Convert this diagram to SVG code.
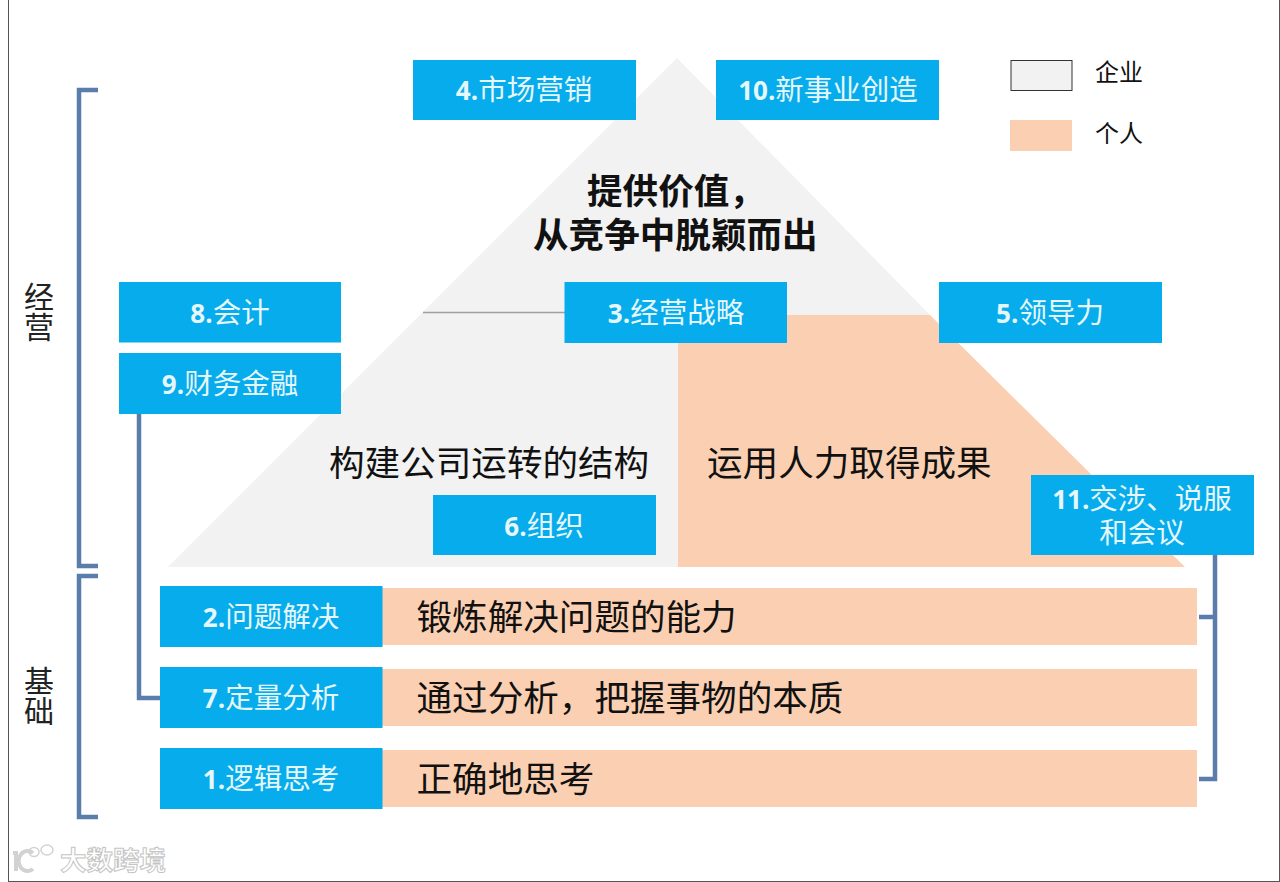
<svg xmlns="http://www.w3.org/2000/svg" width="1280" height="882" viewBox="0 0 1280 882">
<defs><style>
text{font-family:"Noto Sans CJK SC","Noto Sans",sans-serif}
.box{fill:#06acec}
.lbl{fill:#e6f7fb;font-size:28.500px;text-anchor:middle}
.lbl .n{font-family:"Open Sans","Noto Sans CJK SC",sans-serif;font-weight:700;font-size:26px}
.peach{fill:#fbd0b2}
.big{fill:#111;font-size:35.600px}
.title{fill:#111;font-size:35.600px;font-weight:700}
.side{fill:#222;font-size:30px;writing-mode:vertical-rl}
.leg{fill:#111;font-size:24px}
.conn{fill:none;stroke:#5a7dab;stroke-width:4.500}
.wm{fill:#fff;stroke:#c4c4c4;stroke-width:1;font-size:26.500px;font-weight:700}
.wl{fill:none;stroke:#d2d2d2;stroke-width:4}
.wc{fill:none;stroke:#d2d2d2;stroke-width:1.500}
</style></defs>
<rect width="1280" height="882" fill="#fff"/>
<rect x="8.500" y="-1" width="1271" height="882.500" fill="none" stroke="#555" stroke-width="1"/>

<g id="pyramid">
<polygon points="677,58 168,567 678,567 678,315 930,315" fill="#f2f2f2"/>
<polygon class="peach" points="678,315 930,315 1185,567 678,567"/>
</g>
<g id="bar-2"><rect class="peach" x="382" y="588" width="815" height="57"/><text class="big" x="416.500" y="630">锻炼解决问题的能力</text></g>
<g id="bar-7"><rect class="peach" x="382" y="669" width="815" height="57"/><text class="big" x="416.500" y="711">通过分析，把握事物的本质</text></g>
<g id="bar-1"><rect class="peach" x="382" y="750" width="815" height="57"/><text class="big" x="416.500" y="792">正确地思考</text></g>

<g id="connectors">
<path class="conn" d="M98,90H79V566H98"/>
<path class="conn" d="M98,576H79V817H98"/>
<path class="conn" d="M139,414V698H160"/>
<path class="conn" d="M1215,555V779H1199M1215,617H1199"/>
<path d="M423,312.500H565" fill="none" stroke="#a0a0a0" stroke-width="1.500"/>
</g>

<g id="node-4"><rect class="box" x="413" y="60" width="223" height="60"/><text class="lbl" x="524" y="100"><tspan class="n">4.</tspan>市场营销</text></g>
<g id="node-10"><rect class="box" x="716" y="60" width="223" height="60"/><text class="lbl" x="828" y="100"><tspan class="n">10.</tspan>新事业创造</text></g>
<g id="node-8"><rect class="box" x="119" y="282" width="222" height="60.500"/><text class="lbl" x="230" y="323"><tspan class="n">8.</tspan>会计</text></g>
<g id="node-9"><rect class="box" x="119" y="353" width="222" height="61"/><text class="lbl" x="230" y="394"><tspan class="n">9.</tspan>财务金融</text></g>
<g id="node-3"><rect class="box" x="564.500" y="282" width="222.500" height="61"/><text class="lbl" x="676" y="323"><tspan class="n">3.</tspan>经营战略</text></g>
<g id="node-5"><rect class="box" x="939" y="282" width="223" height="61"/><text class="lbl" x="1050" y="323"><tspan class="n">5.</tspan>领导力</text></g>
<g id="node-6"><rect class="box" x="433" y="495" width="223" height="60"/><text class="lbl" x="544" y="536"><tspan class="n">6.</tspan>组织</text></g>
<g id="node-11"><rect class="box" x="1031" y="475" width="223" height="80"/><text class="lbl" y="509"><tspan x="1142"><tspan class="n">11.</tspan>交涉、说服</tspan><tspan x="1142" y="543">和会议</tspan></text></g>
<g id="node-2"><rect class="box" x="160" y="586" width="222.500" height="61"/><text class="lbl" x="271" y="627"><tspan class="n">2.</tspan>问题解决</text></g>
<g id="node-7"><rect class="box" x="160" y="667" width="222.500" height="61"/><text class="lbl" x="271" y="708"><tspan class="n">7.</tspan>定量分析</text></g>
<g id="node-1"><rect class="box" x="160" y="748" width="222.500" height="61"/><text class="lbl" x="271" y="789"><tspan class="n">1.</tspan>逻辑思考</text></g>

<g id="pyramid-text">
<text class="title" y="204"><tspan x="587">提供价值，</tspan><tspan x="533" y="248">从竞争中脱颖而出</tspan></text>
<text class="big" x="329" y="476">构建公司运转的结构</text>
<text class="big" x="707" y="476">运用人力取得成果</text>
</g>

<g id="side-labels">
<text class="side" x="39" y="282">经营</text>
<text class="side" x="39" y="666">基础</text>
</g>
<g id="legend">
<rect x="1011" y="60.500" width="61" height="30" fill="#f2f2f2" stroke="#333" stroke-width="1"/>
<text class="leg" x="1095" y="81">企业</text>
<rect class="peach" x="1010" y="120" width="62" height="31"/>
<text class="leg" x="1095" y="142">个人</text>
</g>
<g id="watermark">
<path class="wl" d="M13,853L16,853V871"/>
<path class="wl" d="M33,853A9,10 0 1 0 33,869"/>
<ellipse class="wc" cx="34" cy="852" rx="5" ry="4.500"/>
<ellipse class="wc" cx="47" cy="850" rx="6" ry="5"/>
<text class="wm" x="60" y="870">大数跨境</text>
</g>
</svg>
